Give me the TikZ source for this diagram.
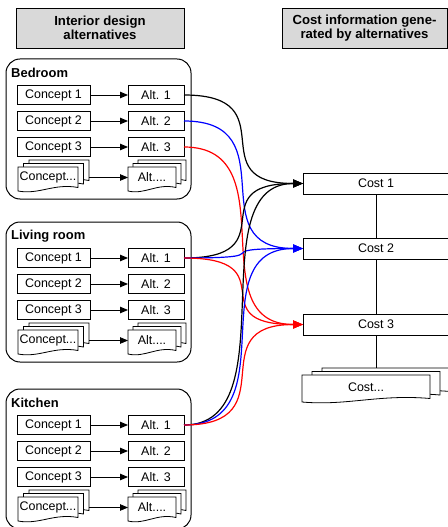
\documentclass[tikz,border=0pt]{standalone}
\usepackage{fontspec}
\setmainfont{Liberation Sans}
\usetikzlibrary{arrows.meta}

% Stack of three document sheets: name, left x, top y, width, height, layer shift, text
\newcommand\docstack[7]{%
  \foreach \k in {2,1,0} {
    \filldraw[sheet,shift={(#6*\k,-3.5*\k)}]
      (#2,#3) -- ++(#4,0) -- ++(0,#5-3.5)
      .. controls +(-0.4*#4,-4.5) and +(0.35*#4,4) .. (#2,#3+#5) -- cycle;
  }
  \node[plain] (#1) at (#2+#4/2,#3+#5/2-1.5) {#7};
  \coordinate (#1-e) at (#2+#4+2*#6,#3+#5/2-1.5);
  \coordinate (#1-w) at (#2,#3+#5/2-1.5);
  \coordinate (#1-n) at (#2+#4/2+#6,#3-7);
}

\begin{document}
\begin{tikzpicture}[x=1bp,y=-1bp,
  plain/.style={inner sep=0pt,outer sep=0pt,font=\fontsize{12.5}{14}\selectfont},
  box/.style={plain,draw,fill=white,line width=0.8bp},
  sheet/.style={fill=white,line width=0.8bp},
  concept/.style={box,minimum width=73bp,minimum height=19.5bp},
  alt/.style={box,minimum width=56bp,minimum height=19.5bp},
  cost/.style={box,minimum width=146bp,minimum height=21bp},
  header/.style={draw,fill=black!15,line width=0.8bp,minimum height=40bp,
    align=center,inner sep=0pt,font=\bfseries\fontsize{13.2}{14.5}\selectfont},
  group/.style={draw,line width=1bp,rounded corners=14bp},
  grouplabel/.style={anchor=west,inner sep=0pt,font=\bfseries\fontsize{13}{15}\selectfont},
  flow/.style={-{Triangle[length=8bp,width=6.5bp]},line width=0.9bp},
  link/.style={-{Triangle[length=10bp,width=8bp]},line width=1.2bp},
  ]
\useasboundingbox (0,0) rectangle (448,527);
\clip (0,0) rectangle (448,527);

% column headers
\node[header,minimum width=168bp] (h1) at (100,28) {Interior design\\alternatives};
\node[header,minimum width=165bp] (h2) at (364.5,28) {Cost information gene-\\rated by alternatives};

% room groups with concepts and alternatives
\foreach \g/\t/\lab in {b/59/Bedroom, l/222/Living room, k/389/Kitchen} {
  \draw[group] (6,\t) rectangle (191,\t+140);
  \node[grouplabel] (\g-label) at (11,\t+14) {\lab};
  \foreach \i in {1,2,3} {
    \node[concept] (\g-c\i) at (53.5,\t+10+26*\i) {Concept \i};
    \node[alt] (\g-a\i) at (156,\t+10+26*\i) {Alt. \i};
    \draw[flow] (\g-c\i.east) -- (\g-a\i.west);
  }
  \docstack{\g-cm}{18}{\t+108}{60}{24}{5.5}{Concept...}
  \docstack{\g-am}{128}{\t+108}{48}{24}{5}{Alt....}
  \draw[flow] (\g-cm-e) -- (\g-am-w);
}

% cost information
\node[cost] (c1) at (376,183.5) {Cost 1};
\node[cost] (c2) at (376,248.5) {Cost 2};
\node[cost] (c3) at (376,324.5) {Cost 3};
\docstack{cm}{302}{375}{128}{27}{10}{Cost...}
\draw[line width=0.8bp] (c1.south) -- (c2.north);
\draw[line width=0.8bp] (c2.south) -- (c3.north);
\draw[line width=0.8bp] (c3.south) -- (c3.south |- cm-n);

% alternatives feeding the cost items
\draw[link,black] (b-a1.east) .. controls +(105,0) and +(-105,0) .. (c1.west);
\draw[link,blue]  (b-a2.east) .. controls +(105,0) and +(-105,0) .. (c2.west);
\draw[link,red]   (b-a3.east) .. controls +(105,0) and +(-105,0) .. (c3.west);
\draw[link,black] (l-a1.east) .. controls +(105,0) and +(-105,0) .. (c1.west);
\draw[link,blue]  (l-a1.east) .. controls +(105,0) and +(-105,0) .. (c2.west);
\draw[link,red]   (l-a1.east) .. controls +(105,0) and +(-105,0) .. (c3.west);
\draw[link,black] (k-a1.east) .. controls +(105,0) and +(-105,0) .. (c1.west);
\draw[link,blue]  (k-a1.east) .. controls +(105,0) and +(-105,0) .. (c2.west);
\draw[link,red]   (k-a1.east) .. controls +(105,0) and +(-105,0) .. (c3.west);
\end{tikzpicture}
\end{document}
